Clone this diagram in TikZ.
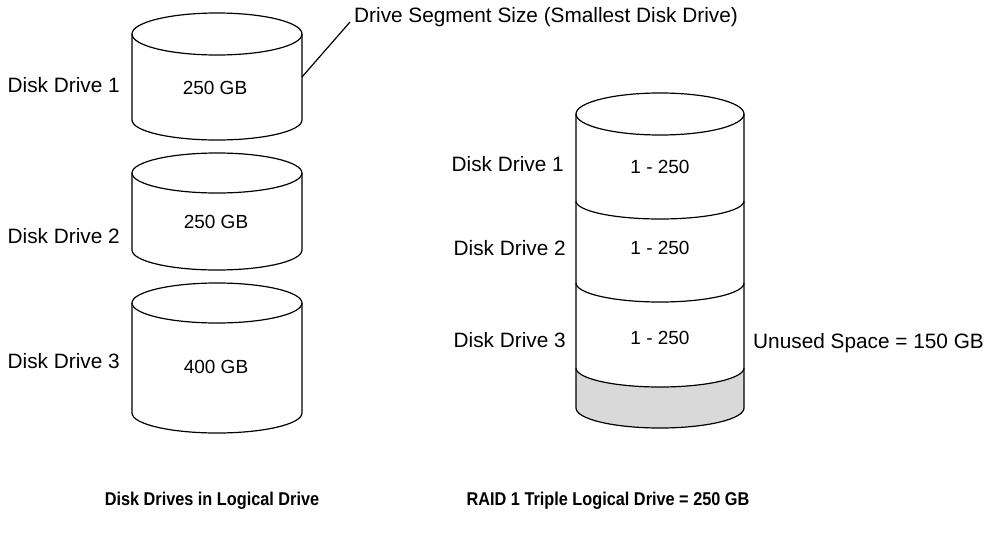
\documentclass[tikz,border=0pt]{standalone}
\usepackage{fontspec}
\setmainfont{Liberation Sans}
\newfontfamily\capfont[FakeStretch=0.88]{Liberation Sans}
\definecolor{unused}{HTML}{D9D9D9}
\tikzset{
  cyl/.style={line width=1.2pt, draw=black},
  lbl/.style={font=\fontsize{20.8}{24}\selectfont, inner sep=0pt},
  inlbl/.style={font=\fontsize{19}{22}\selectfont, inner sep=0pt},
  captext/.style={font=\capfont\fontsize{18.5}{22}\selectfont\bfseries, inner sep=0pt},
  conn/.style={line width=1.2pt}
}
\begin{document}
\begin{tikzpicture}[x=1pt,y=1pt]
\useasboundingbox (0,0) rectangle (990,-546);
% ---------- left cylinders ----------
% cylinder 1
\draw[cyl,fill=white] (132,-34) -- (132,-120) arc[start angle=180,end angle=360,x radius=85pt,y radius=20pt] -- (302,-34);
\draw[cyl] (217,-34) ellipse[x radius=85pt,y radius=21pt];
% cylinder 2
\draw[cyl] (132,-173) -- (132,-250) arc[start angle=180,end angle=360,x radius=85pt,y radius=20pt] -- (302,-173);
\draw[cyl] (217,-173) ellipse[x radius=85pt,y radius=20pt];
% cylinder 3
\draw[cyl] (132,-303) -- (132,-413) arc[start angle=180,end angle=360,x radius=85pt,y radius=20pt] -- (302,-303);
\draw[cyl] (217,-303) ellipse[x radius=85pt,y radius=20pt];

\node[inlbl] (c1) at (215,-88) {250 GB};
\node[inlbl] (c2) at (216,-222) {250 GB};
\node[inlbl] (c3) at (216,-367) {400 GB};

\node[lbl,anchor=east] (l1) at (120,-85) {Disk Drive 1};
\node[lbl,anchor=east] (l2) at (120,-236) {Disk Drive 2};
\node[lbl,anchor=east] (l3) at (120,-361) {Disk Drive 3};

% callout
\coordinate (segA) at (302,-77);
\node[lbl,anchor=west] (callout) at (354,-17) {Drive Segment Size (Smallest Disk Drive)};
\coordinate (segB) at (350,-22);
\draw[conn] (segA) -- (segB);

% ---------- right stack ----------
\fill[unused] (576,-368) arc[start angle=180,end angle=360,x radius=84pt,y radius=19pt]
  -- (744,-408) arc[start angle=360,end angle=180,x radius=84pt,y radius=20pt] -- cycle;
\draw[cyl] (576,-114) -- (576,-408) arc[start angle=180,end angle=360,x radius=84pt,y radius=20pt] -- (744,-114);
\draw[cyl] (660,-114) ellipse[x radius=84pt,y radius=21pt];
\draw[cyl] (576,-201) arc[start angle=180,end angle=360,x radius=84pt,y radius=18pt];
\draw[cyl] (576,-283) arc[start angle=180,end angle=360,x radius=84pt,y radius=19pt];
\draw[cyl] (576,-368) arc[start angle=180,end angle=360,x radius=84pt,y radius=19pt];

\node[inlbl] (r1) at (660,-167) {1 - 250};
\node[inlbl] (r2) at (660,-248) {1 - 250};
\node[inlbl] (r3) at (660,-338) {1 - 250};

\node[lbl,anchor=east] (rl1) at (564,-164) {Disk Drive 1};
\node[lbl,anchor=east] (rl2) at (566,-248) {Disk Drive 2};
\node[lbl,anchor=east] (rl3) at (566,-340) {Disk Drive 3};

\node[lbl,anchor=west] (unused) at (753,-343) {Unused Space = 150 GB};

% captions
\node[captext] (capL) at (212,-501) {Disk Drives in Logical Drive};
\node[captext] (capR) at (608,-501) {RAID 1 Triple Logical Drive = 250 GB};
\end{tikzpicture}
\end{document}
